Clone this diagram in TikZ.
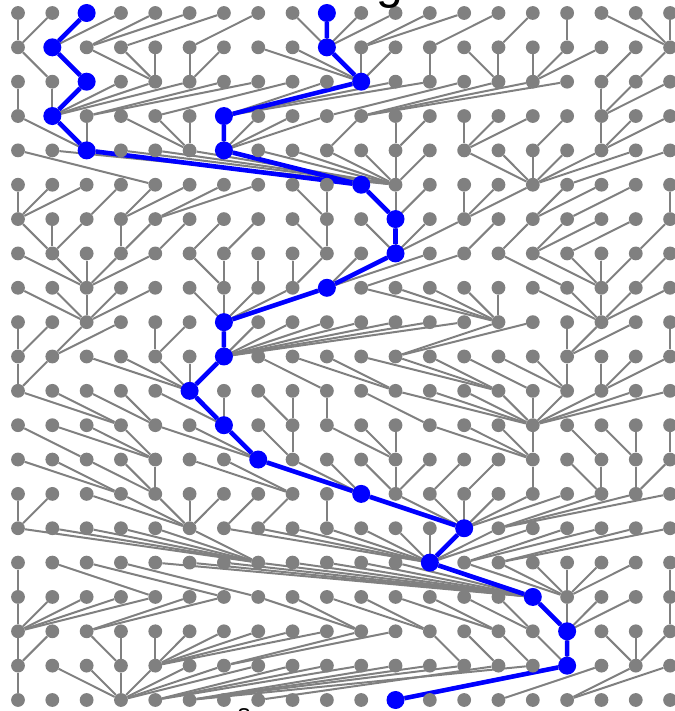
\documentclass[tikz,border=0pt]{standalone}
\usepackage{fontspec}
\setmainfont{Liberation Sans}
\pgfdeclarelayer{edgegray}
\pgfdeclarelayer{edgeblue}
\pgfsetlayers{edgegray,edgeblue,main}
\definecolor{gnode}{HTML}{808080}
\definecolor{bpath}{HTML}{0000FF}
\tikzset{
  gn/.style={circle,fill=gnode,draw=none,inner sep=0pt,minimum size=13.8pt},
  bn/.style={circle,fill=bpath,draw=none,inner sep=0pt,minimum size=18pt},
  gedge/.style={draw=gnode,line width=2pt},
  bedge/.style={draw=bpath,line width=4.6pt,line join=round}
}
\begin{document}
\begin{tikzpicture}[x=1pt,y=1pt]
\useasboundingbox (0,0) rectangle (674,711);
% grid of gray nodes
\foreach \r in {0,...,20}{
  \foreach \c in {0,...,19}{
    \node[gn] (n-\r-\c) at ({18+34.32*\c},{698-34.35*\r}) {};
  }
}
% each node joined to its parent in the next row
\begin{pgfonlayer}{edgegray}
\foreach \plist [count=\r from 0] in {
 {0,0,1,1,2,2,3,5,9,9,9,9,10,10,12,14,16,19,19,19},
 {1,2,4,4,4,5,5,10,10,10,10,10,12,14,14,15,15,15,17,18},
 {0,1,1,1,1,1,2,2,4,6,6,6,6,9,10,10,10,17,17,17},
 {2,2,2,5,5,5,6,6,6,6,9,11,11,13,13,13,15,17,17,17},
 {4,11,10,11,11,11,10,11,11,11,11,11,11,15,15,15,15,15,15,16},
 {0,0,0,2,3,3,4,4,9,9,11,11,11,13,13,13,15,15,16,19},
 {1,1,1,3,3,4,5,6,9,9,11,11,11,11,13,14,15,15,16,18},
 {2,2,2,2,2,6,6,7,8,8,9,9,9,10,16,17,17,17,17,18},
 {2,2,2,2,2,6,6,6,6,6,14,14,14,14,14,17,17,17,17,17},
 {0,0,1,1,4,4,6,6,6,6,6,6,6,6,11,11,16,16,16,19},
 {0,0,5,5,5,5,5,9,11,11,14,14,14,15,16,16,16,17,17,17},
 {3,3,4,4,6,6,6,8,8,9,12,15,15,15,15,15,15,15,15,15},
 {2,4,4,4,7,7,7,8,8,11,11,11,15,15,15,15,17,18,18,19},
 {3,3,4,4,4,8,8,10,10,10,11,11,11,12,13,15,17,17,18,18},
 {0,0,5,5,5,5,5,6,7,9,13,13,13,13,13,13,13,14,14,14},
 {7,7,7,7,7,7,12,12,12,12,12,12,12,12,12,12,13,13,14,14},
 {0,4,6,7,15,15,15,15,15,15,15,15,15,16,16,16,16,16,16,19},
 {0,0,0,0,0,2,2,10,10,12,12,14,14,15,15,16,16,16,16,19},
 {0,0,3,3,4,4,4,4,4,4,6,6,13,14,15,16,16,18,18,18},
 {0,3,3,3,3,3,3,3,4,4,4,5,5,5,7,5,11,14,16,16}}{
  \pgfmathtruncatemacro\rnext{\r+1}
  \foreach \p [count=\c from 0] in \plist {
    \draw[gedge] (n-\r-\c) -- (n-\rnext-\p);
  }
}
\end{pgfonlayer}
% blue nodes
\foreach \r/\c in {0/2,1/1,2/2,3/1,4/2,5/10,6/11,7/11,8/9,9/6,10/6,11/5,12/6,13/7,14/10,15/13,16/12,17/15,18/16,19/16,20/11,0/9,1/9,2/10,3/6,4/6}{
  \node[bn] (b-\r-\c) at (n-\r-\c) {};
}
\begin{pgfonlayer}{edgeblue}
\draw[bedge] (b-0-2)--(b-1-1)--(b-2-2)--(b-3-1)--(b-4-2)--(b-5-10)--(b-6-11)--(b-7-11)--(b-8-9)--(b-9-6)--(b-10-6)--(b-11-5)--(b-12-6)--(b-13-7)--(b-14-10)--(b-15-13)--(b-16-12)--(b-17-15)--(b-18-16)--(b-19-16)--(b-20-11);
\draw[bedge] (b-0-9)--(b-1-9)--(b-2-10)--(b-3-6)--(b-4-6)--(b-5-10);
\end{pgfonlayer}
% clipped title and axis text
\node[anchor=base,inner sep=0pt,font=\fontsize{48}{50}\selectfont] (titletext) at (390,712) {g};
\node[anchor=base,inner sep=0pt,font=\fontsize{26}{28}\selectfont] (axistext) at (244,-11.5) {s};
\end{tikzpicture}
\end{document}
